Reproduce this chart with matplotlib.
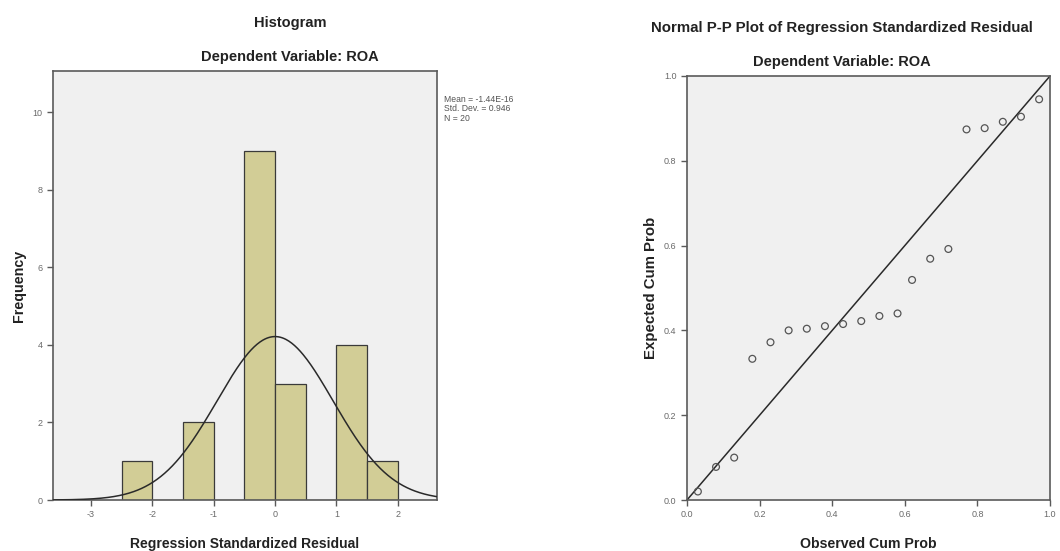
import numpy as np
import matplotlib
matplotlib.use("Agg")
import matplotlib.pyplot as plt

plt.rcParams['font.family'] = ['Liberation Sans', 'DejaVu Sans']

# ---- Histogram data ----
bin_edges = [-2.5, -2.0, -1.5, -1.0, -0.5, 0.0, 0.5, 1.0, 1.5, 2.0]
bin_counts = [1, 0, 2, 0, 9, 3, 0, 4, 1]
hist_mean = -1.44e-16
hist_sd = 0.946
hist_n = 20
hist_xticks = [-3, -2, -1, 0, 1, 2]
hist_yticks = [0, 2, 4, 6, 8, 10]

# ---- P-P plot data ----
observed_cum = [0.03, 0.08, 0.13, 0.18, 0.23, 0.28, 0.33, 0.38, 0.43, 0.48,
                0.53, 0.58, 0.62, 0.67, 0.72, 0.77, 0.82, 0.87, 0.92, 0.97]
expected_cum = [0.02, 0.078, 0.10, 0.333, 0.372, 0.40, 0.404, 0.41, 0.415, 0.422,
                0.434, 0.44, 0.519, 0.569, 0.592, 0.874, 0.877, 0.892, 0.904, 0.945]
pp_ticks = [0.0, 0.2, 0.4, 0.6, 0.8, 1.0]

W, H = 1060, 551
fig = plt.figure(figsize=(W / 100, H / 100), dpi=100)
fig.patch.set_facecolor('white')

bg = '#F0F0F0'
frame = '#5a5a5a'
tickc = '#6a6a6a'
barc = '#D2CD96'
textc = '#222222'

def fr(x0, y0, x1, y1):
    return [x0 / W, 1 - y1 / H, (x1 - x0) / W, (y1 - y0) / H]

def style(ax):
    ax.set_facecolor(bg)
    for s in ax.spines.values():
        s.set_color(frame)
        s.set_linewidth(1.2)
    ax.tick_params(colors=frame, labelcolor=tickc, labelsize=6.5, length=4, width=1)

# Histogram
ax1 = fig.add_axes(fr(53, 71, 437, 500))
style(ax1)
widths = np.diff(bin_edges)
ax1.bar(bin_edges[:-1], bin_counts, width=widths, align='edge',
        color=barc, edgecolor='#3a3a3a', linewidth=0.9, zorder=2)
xs = np.linspace(-3.62, 2.64, 400)
binw = widths[0]
ys = hist_n * binw / (hist_sd * np.sqrt(2 * np.pi)) * np.exp(-0.5 * ((xs - hist_mean) / hist_sd) ** 2)
ax1.plot(xs, ys, color='#2a2a2a', linewidth=1.1, zorder=3)
ax1.set_xlim(-3.62, 2.64)
ax1.set_ylim(0, 11.07)
ax1.set_xticks(hist_xticks)
ax1.set_yticks(hist_yticks)
ax1.set_xticklabels([str(t) for t in hist_xticks])
ax1.set_ylabel('Frequency', fontsize=10.3, fontweight='bold', color=textc, labelpad=5)
ax1.set_xlabel('Regression Standardized Residual', fontsize=10, fontweight='bold', color=textc, labelpad=13)

fig.text(290 / W, 1 - 23 / H, 'Histogram', ha='center', va='center',
         fontsize=10.5, fontweight='bold', color=textc)
fig.text(290 / W, 1 - 57 / H, 'Dependent Variable: ROA', ha='center', va='center',
         fontsize=10.5, fontweight='bold', color=textc)
fig.text(444 / W, 1 - 95 / H,
         'Mean = -1.44E-16\nStd. Dev. = 0.946\nN = 20',
         ha='left', va='top', fontsize=6.2, color='#555555', linespacing=1.05)

# P-P plot
ax2 = fig.add_axes(fr(687, 76, 1050, 500))
style(ax2)
ax2.plot([0, 1], [0, 1], color='#2a2a2a', linewidth=1.1, zorder=2)
ax2.scatter(observed_cum, expected_cum, s=24, facecolors='none',
            edgecolors='#555555', linewidths=0.9, zorder=3)
ax2.set_xlim(0, 1)
ax2.set_ylim(0, 1)
ax2.set_xticks(pp_ticks)
ax2.set_yticks(pp_ticks)
ax2.set_xticklabels(['%.1f' % t for t in pp_ticks])
ax2.set_yticklabels(['%.1f' % t for t in pp_ticks])
ax2.set_ylabel('Expected Cum Prob', fontsize=10.8, fontweight='bold', color=textc, labelpad=4)
ax2.set_xlabel('Observed Cum Prob', fontsize=10.2, fontweight='bold', color=textc, labelpad=13)

fig.text(842 / W, 1 - 28 / H, 'Normal P-P Plot of Regression Standardized Residual',
         ha='center', va='center', fontsize=10.8, fontweight='bold', color=textc)
fig.text(842 / W, 1 - 62 / H, 'Dependent Variable: ROA', ha='center', va='center',
         fontsize=10.5, fontweight='bold', color=textc)

fig.savefig('out.png', dpi=100, facecolor='white')
